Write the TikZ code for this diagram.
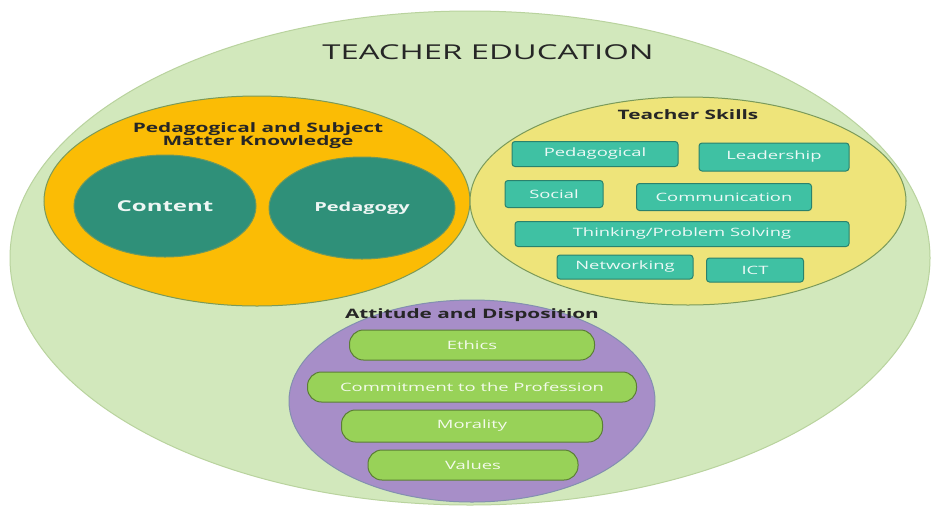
\documentclass[tikz,border=0pt]{standalone}
\usepackage{fontspec}
\setmainfont{Open Sans}[FakeStretch=1.6]
\usepackage{tikz}
\usetikzlibrary{shapes.geometric}
\definecolor{outer}{HTML}{D2E8BC}
\definecolor{outerline}{HTML}{B9D39E}
\definecolor{orange}{HTML}{FBBC05}
\definecolor{teal}{HTML}{2F9079}
\definecolor{yellowish}{HTML}{EEE47A}
\definecolor{purple}{HTML}{A78EC8}
\definecolor{turq}{HTML}{3FC1A3}
\definecolor{lime}{HTML}{98D258}
\definecolor{rim}{HTML}{7A9A5A}
\definecolor{ink}{HTML}{262626}
\tikzset{
  zone/.style={ellipse, draw=rim, line width=1pt, inner sep=0pt},
  core/.style={ellipse, draw=rim!80!teal, line width=1pt, fill=teal, inner sep=0pt,
    text=white!92!teal, font=\bfseries\fontsize{15}{17}\selectfont},
  skill/.style={draw=teal!90!black, line width=1pt, fill=turq, rounded corners=3pt,
    inner sep=0pt, text=white!90!turq, font=\fontsize{11.5}{13}\selectfont},
  trait/.style={draw=lime!60!black, line width=1pt, fill=lime, rounded corners=14pt,
    inner sep=0pt, text=white!88!lime, font=\fontsize{11.5}{13}\selectfont},
  head/.style={text=ink, font=\bfseries\fontsize{13}{14}\selectfont, align=center},
}
\begin{document}
\begin{tikzpicture}[x=1pt,y=-1pt]
  \useasboundingbox (0,0) rectangle (931,507);
  \fill[white] (0,0) rectangle (931,507);

  % big circle
  \node[zone, draw=outerline, fill=outer, minimum width=920pt, minimum height=494pt] (edu) at (470,258) {};
  \node[text=ink, font=\fontsize{20.5}{22}\selectfont] (eduT) at (488,52) {TEACHER EDUCATION};

  % knowledge
  \node[zone, fill=orange, minimum width=426pt, minimum height=210pt] (know) at (257,201) {};
  \node[head] (knowT) at (258,136) {Pedagogical and Subject\\[-1pt]Matter Knowledge};
  \node[core, minimum width=182pt, minimum height=102pt] (content) at (165,206) {Content};
  \node[core, minimum width=186pt, minimum height=102pt, font=\bfseries\fontsize{12.5}{14}\selectfont] (pedagogy) at (362,208) {Pedagogy};

  % skills
  \node[zone, fill=yellowish, minimum width=436pt, minimum height=208pt] (skills) at (688,201) {};
  \node[head] (skillsT) at (688,115) {Teacher Skills};
  \node[skill, minimum width=166pt, minimum height=25pt] (ped) at (595,154) {Pedagogical};
  \node[skill, minimum width=150pt, minimum height=28pt] (lead) at (774,157) {Leadership};
  \node[skill, minimum width=98pt, minimum height=27pt] (soc) at (554,194) {Social};
  \node[skill, minimum width=175pt, minimum height=27pt] (comm) at (724,197) {Communication};
  \node[skill, minimum width=334pt, minimum height=25pt] (think) at (682,234) {Thinking/Problem Solving};
  \node[skill, minimum width=136pt, minimum height=24pt] (net) at (625,267) {Networking};
  \node[skill, minimum width=97pt, minimum height=24pt] (ict) at (755,270) {ICT};

  % attitude
  \node[zone, fill=purple, draw=purple!70!teal, minimum width=366pt, minimum height=202pt] (att) at (472,401) {};
  \node[head] (attT) at (472,315) {Attitude and Disposition};
  \node[trait, minimum width=245pt, minimum height=30pt] (eth) at (472,345) {Ethics};
  \node[trait, minimum width=329pt, minimum height=30pt] (commit) at (472,387) {Commitment to the Profession};
  \node[trait, minimum width=261pt, minimum height=32pt] (mor) at (472,426) {Morality};
  \node[trait, minimum width=210pt, minimum height=30pt] (val) at (473,465) {Values};
\end{tikzpicture}
\end{document}
